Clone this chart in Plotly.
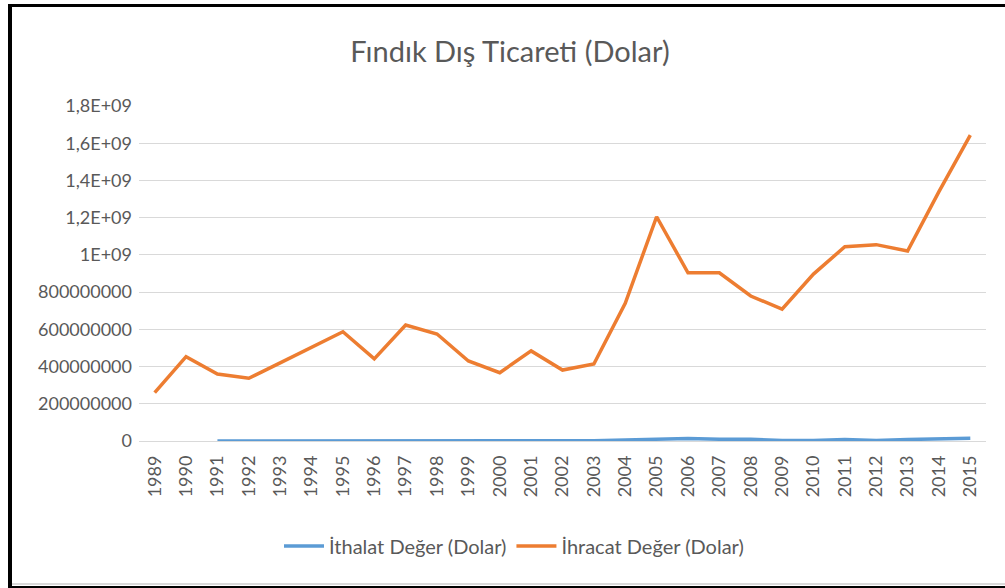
import plotly.graph_objects as go

years = list(range(1989, 2016))
ithalat_years = list(range(1991, 2016))
ithalat = [0, 0, 0, 0, 0, 0, 0, 0, 0, 0, 0, 4e6, 1e6, 5e6, 10e6, 14e6, 10e6, 9e6, 3e6, 3e6, 8e6, 3e6, 8e6, 10e6, 15e6]
ihracat = [260e6, 453e6, 360e6, 337e6, 420e6, 505e6, 587e6, 441e6, 623e6, 575e6,
           430e6, 367e6, 484e6, 381e6, 414e6, 740e6, 1205e6, 904e6, 904e6, 779e6,
           709e6, 897e6, 1044e6, 1055e6, 1021e6, 1340e6, 1644e6]
y_ticks = [0, 2e8, 4e8, 6e8, 8e8, 1e9, 1.2e9, 1.4e9, 1.6e9, 1.8e9]
y_labels = ["0", "200000000", "400000000", "600000000", "800000000",
            "1E+09", "1,2E+09", "1,4E+09", "1,6E+09", "1,8E+09"]

TXT = "#595959"
FONT = "Lato"

L, R, T, B = 139, 19, 106, 147
W, H = 1005, 588
PW, PH = W - L - R, H - T - B


def px(x):
    return (x - L) / PW


def py(y):
    return (H - B - y) / PH


fig = go.Figure()
fig.add_trace(go.Scatter(x=ithalat_years, y=ithalat, mode="lines",
                         name="İthalat Değer (Dolar)",
                         line=dict(color="#5B9BD5", width=3.5)))
fig.add_trace(go.Scatter(x=years, y=ihracat, mode="lines",
                         name="İhracat Değer (Dolar)",
                         line=dict(color="#ED7D31", width=3.5)))

fig.update_layout(
    width=W, height=H,
    paper_bgcolor="white", plot_bgcolor="white",
    margin=dict(l=L, r=R, t=T, b=B, autoexpand=False),
    font=dict(family=FONT, color=TXT, size=18),
    title=dict(text="Fındık Dış Ticareti (Dolar)", xref="container", yref="container",
               x=510 / W, xanchor="center", y=(H - 52) / H, yanchor="middle",
               font=dict(size=29, color=TXT, family=FONT)),
    showlegend=True,
    legend=dict(orientation="h", x=px(514), xanchor="center", y=py(546), yanchor="middle",
                font=dict(size=20, color=TXT), itemwidth=40),
    xaxis=dict(range=[1988.5, 2015.5], tickmode="array", tickvals=years,
               ticktext=[str(y) for y in years], tickangle=-90,
               showgrid=False, showline=False, zeroline=False, automargin=False,
               ticks="", ticklabelstandoff=10, tickfont=dict(size=18, color=TXT)),
    yaxis=dict(range=[0, 1.8e9], tickmode="array", tickvals=y_ticks, ticktext=y_labels,
               showgrid=True, gridcolor="#D9D9D9", gridwidth=1,
               zeroline=True, zerolinecolor="#D9D9D9", zerolinewidth=1, automargin=False,
               showline=False, ticks="", ticklabelstandoff=6,
               tickfont=dict(size=18, color=TXT)),
)

shapes = [
    dict(type="rect", xref="paper", yref="paper",
         x0=px(8), x1=px(12), y0=py(588), y1=py(4),
         fillcolor="black", line=dict(width=0), layer="above"),
    dict(type="rect", xref="paper", yref="paper",
         x0=px(8), x1=px(1005), y0=py(4), y1=py(7),
         fillcolor="black", line=dict(width=0), layer="above"),
    dict(type="rect", xref="paper", yref="paper",
         x0=px(8), x1=px(1005), y0=py(586), y1=py(588),
         fillcolor="black", line=dict(width=0), layer="above"),
    dict(type="line", xref="paper", yref="paper",
         x0=px(12), x1=px(1005), y0=py(584), y1=py(584),
         line=dict(color="#D9D9D9", width=2), layer="above"),
]
fig.update_layout(shapes=shapes)

fig.write_html("out.html", config={"displayModeBar": False},
               post_script="document.body.style.margin='0';document.body.style.overflow='hidden';")
